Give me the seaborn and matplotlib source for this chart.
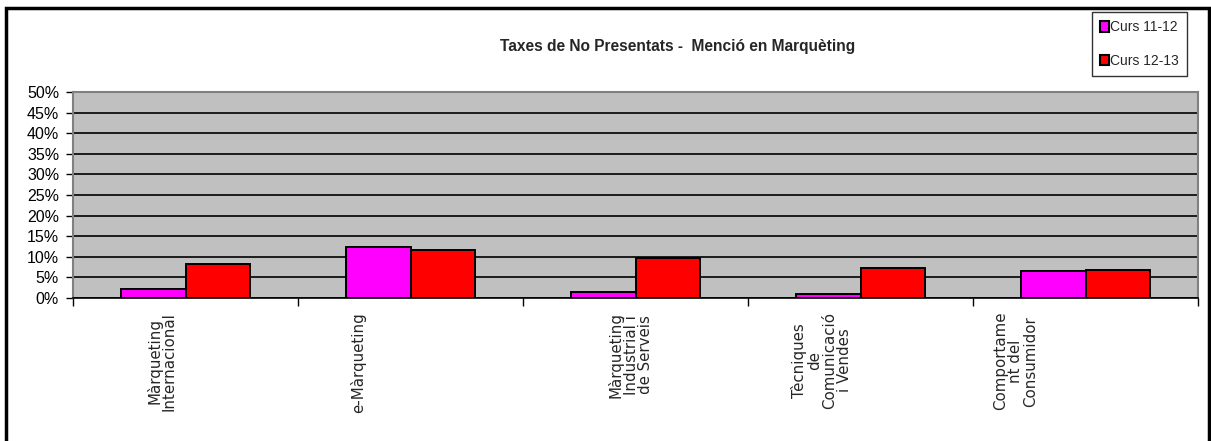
import matplotlib
matplotlib.use("Agg")
import matplotlib.pyplot as plt
import matplotlib.transforms as mtransforms
from matplotlib.patches import Rectangle
from matplotlib.ticker import FuncFormatter, MultipleLocator, FixedLocator
import seaborn as sns
import pandas as pd

categories = ["Màrqueting\nInternacional", "e-Màrqueting",
              "Màrqueting\nIndustrial i\nde Serveis",
              "Tècniques\nde\nComunicació\ni Vendes",
              "Comportame\nnt del\nConsumidor"]
series_names = ["Curs 11-12", "Curs 12-13"]
curs_11_12 = [2.3, 12.3, 1.5, 1.0, 6.6]
curs_12_13 = [8.3, 11.7, 9.8, 7.4, 6.7]
title = "Taxes de No Presentats -  Menció en Marquèting"

df = pd.DataFrame({
    "cat": categories * 2,
    "curs": [series_names[0]] * 5 + [series_names[1]] * 5,
    "val": curs_11_12 + curs_12_13,
})

sns.set_theme(style="white")
narrow = ["Liberation Sans Narrow", "Liberation Sans", "DejaVu Sans"]
plt.rcParams["font.family"] = narrow

W, H = 1211, 441
fig = plt.figure(figsize=(W / 100, H / 100), dpi=100)
fig.patch.set_facecolor("white")
ax = fig.add_axes([73 / W, 1 - 298 / H, (1198 - 73) / W, (298 - 92) / H])
ax.set_facecolor("#C0C0C0")

sns.barplot(data=df, x="cat", y="val", hue="curs", order=categories,
            hue_order=series_names, palette=["#FF00FF", "#FF0000"],
            width=0.57, gap=0, edgecolor="black", linewidth=1.4,
            saturation=1, ax=ax, legend=True, zorder=3)

ax.set_xlim(-0.5, len(categories) - 0.5)
ax.set_ylim(0, 50)
ax.yaxis.set_major_locator(MultipleLocator(5))
ax.yaxis.set_major_formatter(FuncFormatter(lambda v, p: f"{int(round(v))}%"))
ax.grid(axis="y", color="black", linewidth=1.2, zorder=0)
ax.set_axisbelow(True)
ax.set_xlabel("")
ax.set_ylabel("")

for s in ["top", "right", "left"]:
    ax.spines[s].set_color("#808080")
    ax.spines[s].set_linewidth(1.5)
ax.spines["bottom"].set_color("black")
ax.spines["bottom"].set_linewidth(1.2)

ax.tick_params(axis="y", which="major", left=True, length=5, width=1,
               color="black", pad=5, labelsize=11.5, labelcolor="black")

# category boundary ticks
ax.xaxis.set_minor_locator(FixedLocator([i - 0.5 for i in range(len(categories) + 1)]))
ax.tick_params(axis="x", which="minor", bottom=True, length=6, width=1, color="black")
ax.tick_params(axis="x", which="major", bottom=False, length=0, pad=10)
ax.set_xticks(range(len(categories)))
ax.set_xticklabels(categories, rotation=90, ha="center", va="top",
                   multialignment="center", fontsize=10.8,
                   family="DejaVu Sans", linespacing=0.98)
label_dx = [-24, -52, -5, -39, -70]
for lbl, dx in zip(ax.get_xticklabels(), label_dx):
    lbl.set_transform(lbl.get_transform() +
                      mtransforms.ScaledTranslation(dx / 100, 0, fig.dpi_scale_trans))

handles, labels = ax.get_legend_handles_labels()
ax.get_legend().remove()
leg = fig.legend(handles, labels, loc="upper left",
                 bbox_to_anchor=(1092 / W, 1 - 12 / H),
                 frameon=True, fancybox=False, edgecolor="black",
                 handlelength=0.6, handleheight=0.8, handletextpad=0.1,
                 labelspacing=1.4, borderpad=0.6, borderaxespad=0,
                 prop={"family": narrow, "size": 10})
leg.get_frame().set_linewidth(1.0)
for h in leg.legend_handles:
    h.set_edgecolor("black")
    h.set_linewidth(1.5)

fig.text(678 / W, 1 - 46 / H, title, ha="center", va="center",
         fontsize=11.2, fontweight="bold", family=narrow)

fig.patches.append(Rectangle((6 / W, -0.2), (1209 - 6) / W, 1.2 - 8 / H,
                             transform=fig.transFigure, fill=False,
                             edgecolor="black", linewidth=2.5, clip_on=False))

fig.savefig("out.png", dpi=100, facecolor="white")
